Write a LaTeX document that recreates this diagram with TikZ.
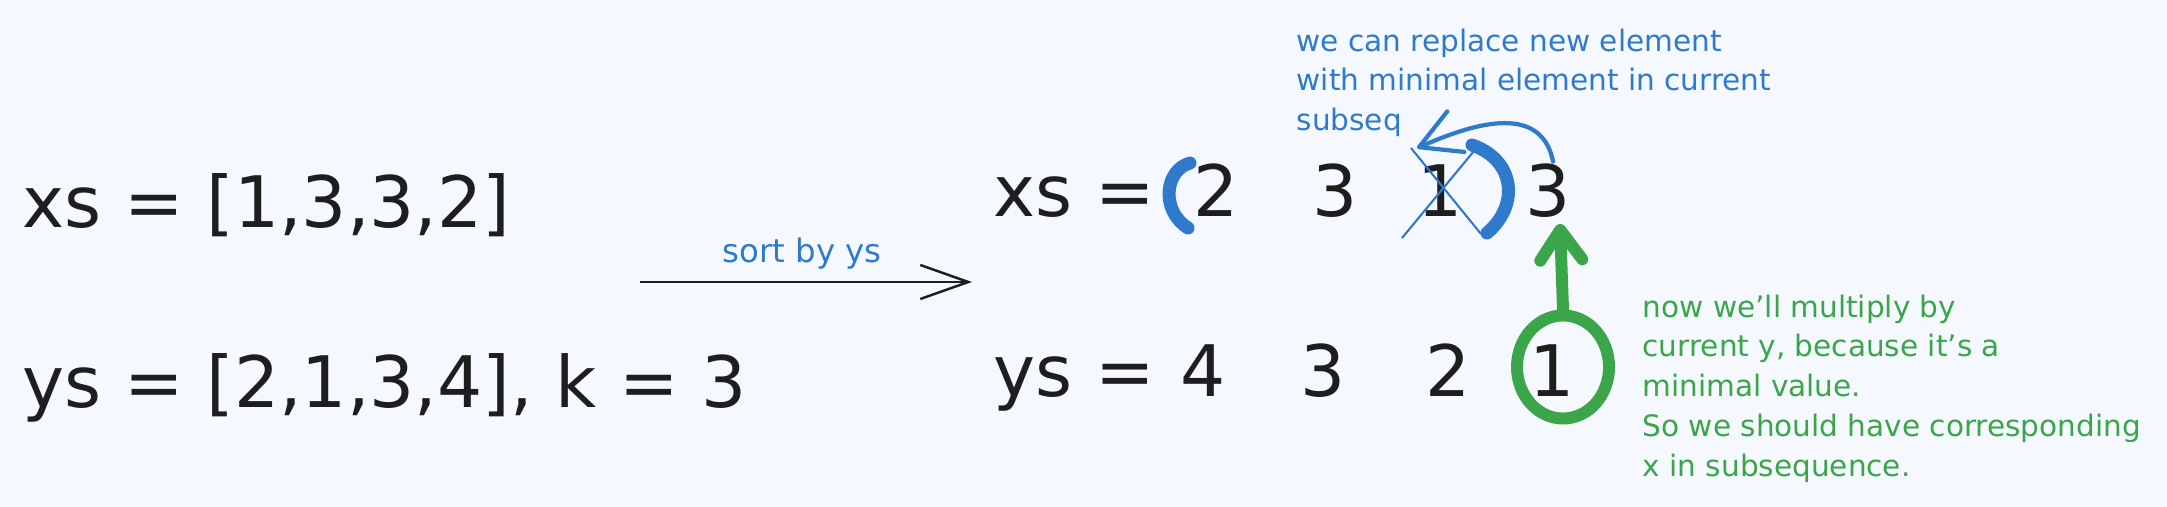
\documentclass[tikz,border=0pt]{standalone}
\usepackage{fontspec}
\setmainfont{DejaVu Sans}
\usetikzlibrary{arrows.meta,shapes.geometric}
\definecolor{ink}{HTML}{1E1E1E}
\definecolor{noteblue}{HTML}{2F7ACB}
\definecolor{notegreen}{HTML}{3BA54A}
\definecolor{paper}{HTML}{F5F9FF}

\begin{document}
\begin{tikzpicture}[x=0.01cm, y=-0.01cm,
    big/.style={inner sep=0pt, text=ink, font=\fontsize{20.2}{24}\selectfont},
    note/.style={inner sep=0pt, align=left, font=\fontsize{8.4}{11.3}\selectfont},
    ring/.style={ellipse, draw=notegreen, line width=3.4pt, minimum width=0.92cm, minimum height=1.03cm, inner sep=0pt}]
    \fill[paper] (0,0) rectangle (2167,507);
    \useasboundingbox (0,0) rectangle (2167,507);

    % input
    \node[big, anchor=base west] (xsin) at (22,228) {xs = [1,3,3,2]};
    \node[big, anchor=base west] (ysin) at (22,408) {ys = [2,1,3,4], k = 3};

    % sort step
    \coordinate (sortA) at (640,282);
    \coordinate (sortB) at (972,282);
    \draw[ink, line width=0.7pt, -{Straight Barb[length=4.8mm,width=3.4mm]}] (sortA) -- (sortB);
    \node[text=noteblue, inner sep=0pt, anchor=base, font=\fontsize{9.2}{11}\selectfont] (sortlbl) at (802,263) {sort by ys};

    % sorted xs
    \node[big, anchor=base west] (xsl) at (993,217) {xs =};
    \node[big, anchor=base] (xa) at (1216,217) {2};
    \node[big, anchor=base] (xb) at (1335,217) {3};
    \node[big, anchor=base] (xc) at (1440,217) {1};
    \node[big, anchor=base] (xd) at (1548,217) {3};

    % sorted ys
    \node[big, anchor=base west] (ysl) at (993,397) {ys =};
    \node[big, anchor=base] (ya) at (1203,397) {4};
    \node[big, anchor=base] (yb) at (1323,397) {3};
    \node[big, anchor=base] (yc) at (1448,397) {2};
    \node[big, anchor=base] (yd) at (1552,397) {1};

    % subsequence brackets
    \draw[noteblue, line width=3.7pt, line cap=round] (1190,163) .. controls (1165,170) and (1160,210) .. (1188,228);
    \draw[noteblue, line width=3.7pt, line cap=round] (1472,145) .. controls (1515,160) and (1520,205) .. (1487,233);

    % crossed out 1
    \draw[noteblue, line width=0.6pt] (1411,148) -- (1481,234);
    \draw[noteblue, line width=0.6pt] (1474,151) -- (1402,238);

    % replace
    \coordinate (tipb) at (1417,148);
    \draw[noteblue, line width=1.2pt, line cap=round, -{Straight Barb[length=4mm,width=4.4mm,round]}] ([shift={(5,-2)}]xd.north) .. controls (1540,95) and (1455,132) .. (tipb);
    \node[note, text=noteblue, anchor=north west] (bnote) at (1296,28) {we can replace new element\\with minimal element in current\\subseq};

    % current y
    \node[ring] (circ) at (1563,367) {};
    \coordinate (tipg) at (1560,224);
    \draw[notegreen, line width=3.4pt, line cap=round, -{Straight Barb[length=3mm,width=4.2mm,round]}] (circ.north) -- (tipg);
    \node[note, text=notegreen, anchor=north west] (gnote) at (1642,294) {now we'll multiply by\\current y, because it's a\\minimal value.\\So we should have corresponding\\x in subsequence.};
\end{tikzpicture}
\end{document}
